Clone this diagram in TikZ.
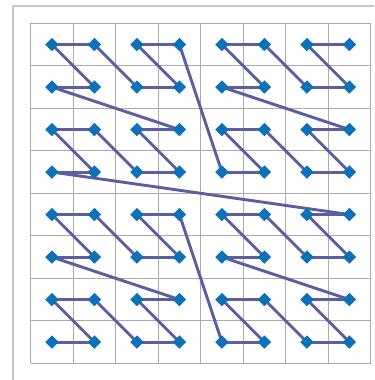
\documentclass[tikz,border=0pt]{standalone}
\usetikzlibrary{shapes.geometric}
\definecolor{curveblue}{HTML}{5B5EA0}
\definecolor{dotblue}{HTML}{0B72BA}
\definecolor{gridgray}{HTML}{ABABAB}
\definecolor{framegray}{HTML}{C8C8C8}
\tikzset{
  zline/.style={line width=2.2pt, curveblue},
  zdot/.style={diamond, fill=dotblue, inner sep=0pt, minimum width=0.36cm, minimum height=0.36cm},
}
\begin{document}
\begin{tikzpicture}[x=1.125cm,y=1.125cm]
    \useasboundingbox (-0.722,-0.393) rectangle (8.078,8.548);

    % --- 1. 外框 (只露出左边和上边) ---
    \draw[framegray, line width=1.5pt] (-0.416,-0.393) -- (-0.416,8.414) -- (8.078,8.414);

    % --- 2. 8x8 网格 ---
    \draw[gridgray, line width=0.8pt, step=1.125cm] (0,0) grid (8,8);

    % --- 3. Z 序曲线 (Morton order) ---
    % 由序号的奇偶位算出格子坐标
    \foreach \i in {0,...,63} {
        \pgfmathtruncatemacro{\cx}{mod(\i,2)+2*mod(floor(\i/4),2)+4*mod(floor(\i/16),2)}
        \pgfmathtruncatemacro{\cy}{mod(floor(\i/2),2)+2*mod(floor(\i/8),2)+4*mod(floor(\i/32),2)}
        \coordinate (p\i) at (\cx+0.5,\cy+0.5);
    }
    \foreach \i [remember=\i as \j (initially 0)] in {1,...,63}
        \draw[zline] (p\j) -- (p\i);

    % --- 4. 菱形点 ---
    \foreach \i in {0,...,63}
        \node[zdot] (d\i) at (p\i) {};

\end{tikzpicture}
\end{document}
